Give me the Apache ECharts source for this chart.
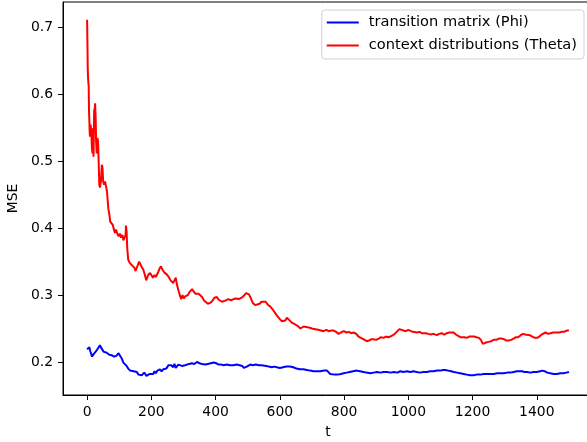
<!DOCTYPE html>
<html>
<head>
<meta charset="utf-8">
<script src="https://cdn.jsdelivr.net/npm/echarts@6/dist/echarts.min.js"></script>
<style>
html,body{margin:0;padding:0;background:#fff;}
#main{width:587px;height:442px;}
</style>
</head>
<body>
<div id="main"></div>
<script>
// 数据
var seriesNames = ['transition matrix (Phi)', 'context distributions (Theta)'];
var xTicks = [0, 200, 400, 600, 800, 1000, 1200, 1400];
var yTicks = [0.2, 0.3, 0.4, 0.5, 0.6, 0.7];

var phiT = [0,3,5,7,10,13,15,18,21,24,28,32,36,40,44,48,52,56,60,64,68,72,76,80,84,87,91,95,98,101,104,108,113,118,123,128,134,140,145,150,155,160,165,170,175,178,181,185,190,195,201,206,210,214,219,223,227,232,237,242,247,253,258,263,268,272,276,279,284,290,295,300,305,310,318,326,334,342,350,358,368,376,385,394,402,410,418,425,435,445,455,466,475,483,488,492,497,502,508,516,525,535,543,549,558,566,575,583,591,600,610,620,632,642,652,662,674,684,694,705,716,726,738,747,752,757,762,770,780,790,799,808,818,828,840,850,860,870,882,892,903,913,923,934,945,955,966,975,985,996,1006,1016,1026,1037,1047,1058,1068,1079,1090,1100,1108,1115,1124,1133,1142,1152,1162,1172,1182,1192,1203,1213,1224,1235,1245,1256,1266,1277,1287,1297,1308,1318,1328,1338,1346,1354,1362,1370,1380,1390,1400,1410,1417,1425,1433,1442,1453,1463,1473,1483,1492,1500];
var phiMSE = [0.219,0.217,0.22,0.222,0.216,0.212,0.208,0.209,0.212,0.213,0.216,0.217,0.222,0.225,0.221,0.218,0.215,0.216,0.214,0.214,0.211,0.213,0.21,0.211,0.208,0.207,0.209,0.21,0.213,0.211,0.208,0.205,0.199,0.197,0.194,0.19,0.187,0.188,0.186,0.187,0.185,0.181,0.179,0.18,0.179,0.184,0.182,0.179,0.18,0.182,0.184,0.182,0.186,0.183,0.187,0.185,0.189,0.186,0.189,0.191,0.19,0.195,0.193,0.195,0.192,0.197,0.191,0.193,0.196,0.195,0.194,0.196,0.195,0.196,0.197,0.198,0.197,0.2,0.198,0.197,0.196,0.197,0.198,0.199,0.198,0.196,0.196,0.195,0.196,0.195,0.195,0.196,0.195,0.194,0.191,0.19,0.193,0.195,0.196,0.195,0.196,0.195,0.195,0.195,0.194,0.193,0.192,0.193,0.192,0.191,0.192,0.193,0.193,0.192,0.19,0.189,0.189,0.188,0.187,0.186,0.186,0.186,0.187,0.187,0.185,0.182,0.18,0.181,0.181,0.182,0.183,0.184,0.185,0.186,0.187,0.186,0.185,0.184,0.183,0.184,0.185,0.184,0.185,0.185,0.184,0.185,0.184,0.186,0.185,0.186,0.185,0.186,0.185,0.184,0.185,0.185,0.186,0.186,0.187,0.187,0.188,0.188,0.187,0.186,0.185,0.184,0.183,0.182,0.181,0.18,0.18,0.181,0.181,0.182,0.182,0.182,0.182,0.183,0.183,0.183,0.184,0.184,0.185,0.186,0.186,0.186,0.185,0.185,0.184,0.185,0.185,0.186,0.187,0.186,0.184,0.183,0.182,0.182,0.183,0.183,0.184,0.185];

var thetaT = [0,1,2,3,5,6,7,8,9,11,13,15,17,19,20,22,24,25,27,28,30,32,34,36,38,40,43,46,48,50,53,56,59,62,66,70,72,76,80,84,87,90,94,98,102,106,110,113,117,120,121,123,125,128,132,137,142,147,151,154,158,162,165,170,175,180,184,186,190,193,196,200,205,210,214,217,222,226,230,235,240,244,248,254,260,264,268,272,276,280,285,290,293,297,301,305,309,314,318,322,327,332,337,342,347,352,358,364,370,376,381,386,391,396,400,404,410,415,420,425,432,440,448,456,464,472,477,484,490,495,499,504,510,516,523,530,537,543,549,556,562,570,580,590,600,606,611,617,622,627,633,640,648,655,664,674,680,686,693,700,710,720,728,736,745,752,760,767,775,783,790,799,808,815,822,830,838,845,850,857,864,871,878,885,892,900,908,915,923,930,937,944,952,960,966,972,978,985,992,1000,1006,1014,1020,1028,1035,1042,1048,1055,1062,1070,1078,1084,1089,1096,1104,1112,1120,1128,1134,1141,1148,1155,1162,1167,1175,1182,1190,1198,1205,1212,1220,1226,1232,1236,1242,1250,1258,1266,1274,1282,1290,1298,1305,1312,1320,1328,1335,1342,1350,1357,1364,1370,1378,1386,1394,1401,1408,1415,1421,1427,1435,1443,1451,1458,1463,1470,1478,1485,1490,1494,1500];
var thetaMSE = [0.712,0.68,0.64,0.625,0.612,0.575,0.562,0.545,0.537,0.555,0.545,0.52,0.512,0.55,0.507,0.575,0.58,0.587,0.56,0.53,0.512,0.535,0.53,0.5,0.465,0.461,0.47,0.495,0.49,0.47,0.465,0.47,0.468,0.455,0.43,0.418,0.41,0.412,0.405,0.397,0.393,0.398,0.392,0.388,0.392,0.386,0.39,0.382,0.384,0.39,0.404,0.395,0.37,0.353,0.349,0.346,0.344,0.341,0.336,0.338,0.345,0.35,0.351,0.342,0.338,0.33,0.322,0.321,0.33,0.328,0.333,0.33,0.326,0.33,0.327,0.326,0.335,0.34,0.343,0.338,0.334,0.333,0.331,0.327,0.322,0.32,0.318,0.322,0.326,0.315,0.306,0.298,0.294,0.3,0.295,0.298,0.296,0.3,0.304,0.306,0.309,0.305,0.302,0.303,0.302,0.301,0.297,0.292,0.29,0.287,0.285,0.289,0.292,0.296,0.298,0.297,0.293,0.291,0.29,0.29,0.292,0.294,0.292,0.294,0.295,0.294,0.296,0.297,0.299,0.303,0.304,0.301,0.295,0.288,0.285,0.286,0.287,0.29,0.291,0.29,0.286,0.283,0.277,0.27,0.264,0.261,0.259,0.262,0.266,0.265,0.261,0.258,0.256,0.254,0.25,0.253,0.255,0.252,0.251,0.25,0.249,0.248,0.247,0.246,0.248,0.246,0.247,0.247,0.245,0.242,0.244,0.246,0.244,0.245,0.243,0.244,0.242,0.238,0.236,0.235,0.233,0.231,0.232,0.234,0.234,0.233,0.235,0.237,0.236,0.238,0.237,0.238,0.24,0.243,0.245,0.249,0.247,0.247,0.246,0.248,0.246,0.245,0.246,0.244,0.245,0.243,0.242,0.243,0.242,0.241,0.242,0.24,0.24,0.242,0.243,0.241,0.243,0.244,0.243,0.244,0.241,0.239,0.237,0.236,0.237,0.236,0.238,0.238,0.238,0.237,0.236,0.233,0.227,0.226,0.229,0.23,0.231,0.233,0.233,0.235,0.235,0.234,0.232,0.232,0.233,0.235,0.237,0.237,0.24,0.242,0.241,0.242,0.24,0.238,0.236,0.236,0.238,0.241,0.243,0.244,0.242,0.243,0.244,0.244,0.243,0.244,0.245,0.245,0.244,0.247,0.247];

function zip(xs, ys) {
    var out = [];
    for (var i = 0; i < xs.length; i++) {
        out.push([xs[i], ys[i]]);
    }
    return out;
}

var font = 'DejaVu Sans';
var chart = echarts.init(document.getElementById('main'));

var option = {
    animation: false,
    color: ['#0000ff', '#ff0000'],
    grid: {
        left: 63,
        top: 2,
        width: 530,
        height: 393,
        show: true,
        borderColor: '#000',
        borderWidth: 1,
        containLabel: false,
        outerBoundsMode: 'none'
    },
    legend: {
        data: seriesNames,
        orient: 'vertical',
        right: 3,
        top: 10,
        icon: 'rect',
        itemWidth: 32,
        itemHeight: 2,
        itemGap: 8,
        padding: [5, 7, 6, 5],
        borderColor: '#d0d0d0',
        borderWidth: 1,
        borderRadius: 3,
        backgroundColor: 'rgba(255,255,255,0.8)',
        textStyle: {
            fontFamily: font,
            fontSize: 14.6,
            color: '#000',
            lineHeight: 15,
            padding: [0, 0, 0, 5]
        }
    },
    xAxis: {
        type: 'value',
        min: -75,
        max: 1575,
        name: 't',
        nameLocation: 'middle',
        nameGap: 30,
        nameTextStyle: { fontFamily: font, fontSize: 13.9, color: '#000' },
        splitLine: { show: false },
        axisLine: { onZero: false, lineStyle: { color: '#000', width: 1 } },
        axisTick: { length: 5, lineStyle: { color: '#000' }, customValues: xTicks },
        axisLabel: { fontFamily: font, fontSize: 13.9, color: '#000', margin: 10, customValues: xTicks,
            formatter: function (v) { return String(v); } }
    },
    yAxis: {
        type: 'value',
        min: 0.1505,
        max: 0.7385,
        name: 'MSE',
        nameLocation: 'middle',
        nameGap: 37,
        nameTextStyle: { fontFamily: font, fontSize: 13.9, color: '#000' },
        splitLine: { show: false },
        axisLine: { show: true, onZero: false, lineStyle: { color: '#000', width: 1 } },
        axisTick: { show: true, length: 5, lineStyle: { color: '#000' }, customValues: yTicks },
        axisLabel: { fontFamily: font, fontSize: 13.9, color: '#000', margin: 10, customValues: yTicks,
            formatter: function (v) { return v.toFixed(1); } }
    },
    series: [{
        name: seriesNames[0],
        type: 'line',
        data: zip(phiT, phiMSE),
        showSymbol: false,
        lineStyle: { width: 2 }
    }, {
        name: seriesNames[1],
        type: 'line',
        data: zip(thetaT, thetaMSE),
        showSymbol: false,
        lineStyle: { width: 2 }
    }]
};
chart.setOption(option);
</script>
</body>
</html>
